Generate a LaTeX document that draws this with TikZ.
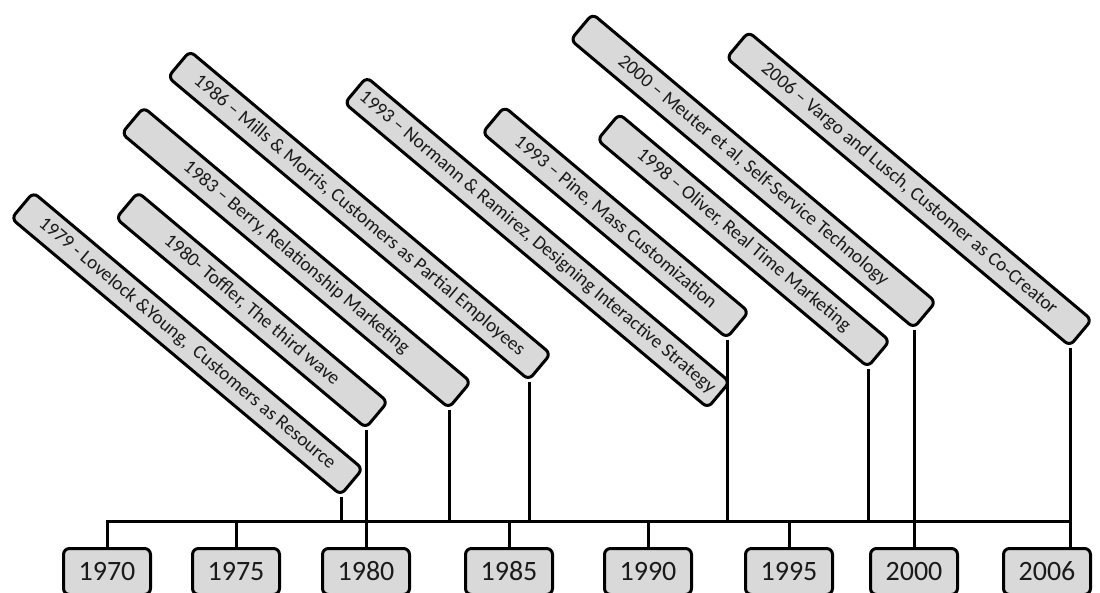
\documentclass[tikz,border=0pt]{standalone}
\usepackage{fontspec}
\setmainfont{Carlito}
\usepackage{xcolor}
\usetikzlibrary{backgrounds}

\definecolor{boxgray}{HTML}{D9D9D9}
\definecolor{inkgray}{HTML}{1A1A1A}

\begin{document}
\begin{tikzpicture}[x=1pt,y=-1pt,
	event/.style={draw,fill=boxgray,line width=3pt,rounded corners=6pt,rotate=-40,anchor=south east,
		minimum height=34pt,inner sep=0pt,text=inkgray,font=\fontsize{19.3}{22}\selectfont},
	year/.style={draw,fill=boxgray,line width=3pt,rounded corners=6pt,anchor=north,
		minimum width=87pt,minimum height=46pt,inner sep=0pt,text=inkgray,font=\fontsize{28}{32}\selectfont},
	link/.style={line width=3pt}]
	\useasboundingbox (0,0) rectangle (1100,592);
	%
	\node[event,minimum width=430pt] (e79) at (341,497) {1979 - Lovelock \&Young,~ Customers as Resource};
	\node[event,minimum width=326pt] (e80) at (366,430) {1980- Toffler, The third wave};
	\node[event,minimum width=427pt] (e83) at (449,410) {1983 – Berry, Relationship Marketing};
	\node[event,minimum width=471pt] (e86) at (529,382) {1986 – Mills \& Morris, Customers as Partial Employees};
	\node[event,minimum width=474pt] (e93a) at (708,410) {1993 – Normann \& Ramirez, Designing Interactive Strategy};
	\node[event,minimum width=319pt] (e93b) at (727,340) {1993 – Pine, Mass Customization};
	\node[event,minimum width=353pt] (e98) at (868,369) {1998 – Oliver, Real Time Marketing};
	\node[event,minimum width=448pt] (e00) at (914,330) {2000 – Meuter et al, Self-Service Technology};
	\node[event,minimum width=448pt] (e06) at (1070,348) {2006 – Vargo and Lusch, Customer as Co-Creator};
	%
	\node[year] (y70) at (107,547) {1970};
	\node[year] (y75) at (236,547) {1975};
	\node[year] (y80) at (366,547) {1980};
	\node[year] (y85) at (509,547) {1985};
	\node[year] (y90) at (648,547) {1990};
	\node[year] (y95) at (789,547) {1995};
	\node[year] (y00) at (914,547) {2000};
	\node[year] (y06) at (1047,547) {2006};
	%
	\coordinate (tl) at (107,521);
	\coordinate (tr) at (1070,521);
	%
	\begin{scope}[on background layer]
	\draw[link] (y70.north) |- (tr);
	\path[link]
	(e79.south east) edge (e79.south east |- tl)
	(e80.south east) edge (y80.north)
	(e83.south east) edge (e83.south east |- tl)
	(e86.south east) edge (e86.south east |- tl)
	(e93b.south east) edge (e93b.south east |- tl)
	(e98.south east) edge (e98.south east |- tl)
	(e00.south east) edge (y00.north)
	(e06.south east) edge (e06.south east |- y06.north)
	(y75.north) edge (y75.north |- tl)
	(y85.north) edge (y85.north |- tl)
	(y90.north) edge (y90.north |- tl)
	(y95.north) edge (y95.north |- tl);
	\end{scope}
\end{tikzpicture}
\end{document}
